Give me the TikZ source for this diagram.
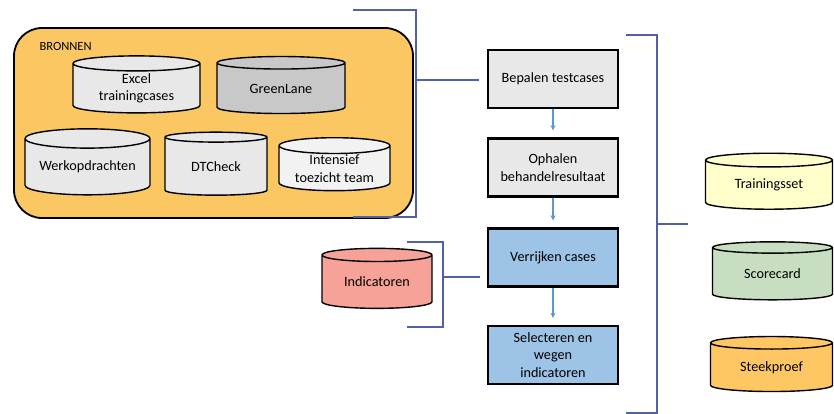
\documentclass[tikz,border=0pt]{standalone}
\usepackage{fontspec}
\setmainfont{Carlito}
\usetikzlibrary{shapes.geometric}
\definecolor{bronoranje}{RGB}{251,199,98}
\definecolor{lichtgrijs}{RGB}{232,232,232}
\definecolor{middengrijs}{RGB}{200,200,200}
\definecolor{witgrijs}{RGB}{242,242,242}
\definecolor{stapblauw}{RGB}{157,195,230}
\definecolor{zalm}{RGB}{247,162,152}
\definecolor{geel}{RGB}{255,255,204}
\definecolor{groen}{RGB}{200,222,192}
\definecolor{oranje}{RGB}{255,199,99}
\definecolor{haakblauw}{RGB}{82,96,168}
\definecolor{pijlblauw}{RGB}{92,152,206}
\begin{document}
\begin{tikzpicture}[>=stealth,x=1pt,y=-1pt,
	font=\fontsize{14.2}{17.5}\selectfont,
	stapbox/.style={draw,line width=2.2pt,minimum width=130pt,minimum height=58pt,inner sep=0pt,align=center},
	vat/.style={cylinder,shape border rotate=90,aspect=0.2,draw,line width=1.4pt,cylinder uses custom fill,cylinder body fill=#1,cylinder end fill=#1,inner sep=0pt,align=center},
	haak/.style={draw=haakblauw,line width=2.2pt},
	pijl/.style={->,draw=pijlblauw,line width=1.3pt,shorten >=7pt}]
	
	\useasboundingbox (0,0) rectangle (834,414);
	
	\node[draw,line width=1.8pt,rounded corners=28pt,fill=bronoranje,minimum width=399pt,minimum height=190pt] (bronnen) at (213.5,123) {};
	\node[anchor=west,font=\fontsize{12.5}{14}\selectfont] (bronlabel) at (36,46) {BRONNEN};
	
	\node[vat=lichtgrijs,minimum width=127pt,minimum height=57pt] (excel) at (136.5,88.5) {Excel\\trainingcases};
	\node[vat=middengrijs,minimum width=128pt,minimum height=57pt] (greenlane) at (281,88.5) {GreenLane};
	\node[vat=lichtgrijs,minimum width=125pt,minimum height=66pt] (werk) at (87.5,167) {Werkopdrachten};
	\node[vat=lichtgrijs,minimum width=102pt,minimum height=63pt] (dtcheck) at (216,166.5) {DTCheck};
	\node[vat=witgrijs,minimum width=111pt,minimum height=53pt] (intensief) at (334.5,168.5) {Intensief\\toezicht team};
	
	\node[stapbox,fill=lichtgrijs] (bepalen) at (553,79) {Bepalen testcases};
	\node[stapbox,fill=lichtgrijs] (ophalen) at (553,167.5) {Ophalen\\behandelresultaat};
	\node[stapbox,fill=stapblauw] (verrijken) at (553,257.5) {Verrijken cases};
	\node[stapbox,fill=stapblauw] (selecteren) at (553,355) {Selecteren en\\wegen\\indicatoren};
	
	\foreach \van/\naar in {bepalen/ophalen,ophalen/verrijken,verrijken/selecteren} {
		\draw[pijl] (\van) -- (\naar);
	}
	
	\node[vat=zalm,minimum width=110pt,minimum height=60pt] (indicatoren) at (377,282) {Indicatoren};
	
	\node[vat=geel,minimum width=127pt,minimum height=56pt] (trainingsset) at (769,185) {Trainingsset};
	\node[vat=groen,minimum width=120pt,minimum height=58pt] (scorecard) at (772.5,274) {Scorecard};
	\node[vat=oranje,minimum width=122pt,minimum height=55pt] (steekproef) at (771.5,367.5) {Steekproef};
	
	\coordinate (haak1) at (416,80);
	\coordinate (haak2) at (443,277);
	\coordinate (haak3) at (657,224);
	\coordinate (uit3) at (688,224);
	\coordinate (uit2) at (480,277);
	
	\draw[haak] (353,10) -| (416,217) -- (353,217);
	\draw[haak,shorten >=8pt] (haak1) -- (haak1 -| bepalen.west);
	\draw[haak] (407,242) -| (443,327) -- (407,327);
	\draw[haak] (haak2) -- (uit2);
	\draw[haak] (626,35) -| (657,413) -- (626,413);
	\draw[haak] (haak3) -- (uit3);
	
\end{tikzpicture}
\end{document}
